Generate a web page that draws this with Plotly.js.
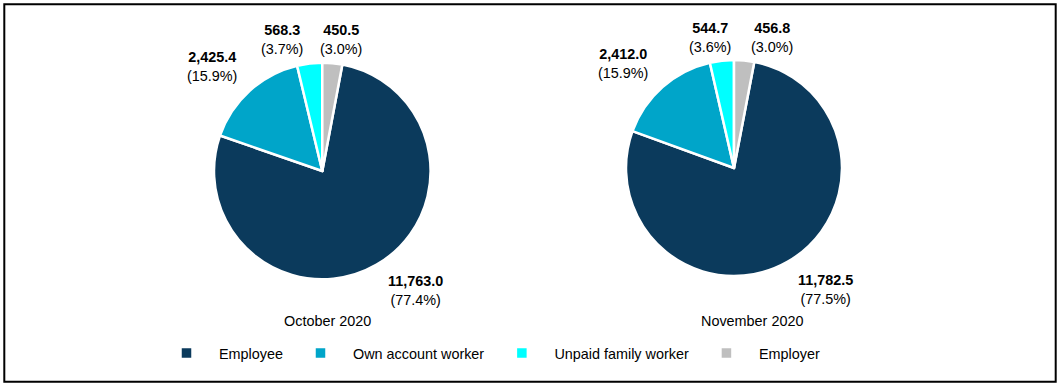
<!DOCTYPE html>
<html>
<head>
<meta charset="utf-8">
<script src="https://cdn.plot.ly/plotly-3.0.1.min.js"></script>
<style>
  html, body { margin: 0; padding: 0; background: #fff; }
  #chart { width: 1062px; height: 388px; }
</style>
</head>
<body>
<div id="chart"></div>
<script>
// ---- data ----
const categories = ["Employee", "Own account worker", "Unpaid family worker", "Employer"];
const periods = ["October 2020", "November 2020"];
const valuesOct = [11763.0, 2425.4, 568.3, 450.5];
const valuesNov = [11782.5, 2412.0, 544.7, 456.8];

// ---- styles / layout ----
const colors = ["#0b3a5c", "#00a5c9", "#00ffff", "#bfbfbf"];
const W = 1062, H = 388;
const FONT = "Liberation Sans, Arial, Helvetica, sans-serif";
const FS = 14.4;
// pie centre (px) and radius
const pieGeo = [
  { cx: 322.3, cy: 171, r: 108.3 },
  { cx: 734, cy: 168, r: 108 }
];
// label anchor positions (px) per pie, in category order
const labelPos = [
  [[415.4, 290.5], [212.2, 66.8], [281.7, 40.0], [341.0, 40.0]],
  [[825.2, 289.2], [623.3, 63.3], [710.0, 37.0], [771.5, 37.0]]
];
const titlePos = [[327.5, 321], [752, 320.5]];

const px = x => x / W;
const py = y => 1 - y / H;

function fmtVal(v) {
  return v.toLocaleString("en-US", { minimumFractionDigits: 1, maximumFractionDigits: 1 });
}

const allValues = [valuesOct, valuesNov];
const traces = [];
const annotations = [];

allValues.forEach((vals, i) => {
  const total = vals.reduce((a, b) => a + b, 0);
  const g = pieGeo[i];
  traces.push({
    type: "pie",
    labels: categories,
    values: vals,
    name: periods[i],
    sort: false,
    direction: "clockwise",
    rotation: 360 * vals[3] / total,
    textinfo: "none",
    marker: { colors: colors, line: { color: "#ffffff", width: 2.5 } },
    domain: {
      x: [px(g.cx - g.r), px(g.cx + g.r)],
      y: [py(g.cy + g.r), py(g.cy - g.r)]
    },
    showlegend: i === 0,
    hovertemplate: "%{label}<br>%{value:,.1f} (%{percent:.1%})<extra>" + periods[i] + "</extra>"
  });
  vals.forEach((v, k) => {
    const pct = (v / total * 100).toFixed(1) + "%";
    annotations.push({
      xref: "paper", yref: "paper",
      x: px(labelPos[i][k][0]), y: py(labelPos[i][k][1]),
      xanchor: "center", yanchor: "middle",
      showarrow: false,
      text: "<b>" + fmtVal(v) + "</b><br>(" + pct + ")",
      font: { family: FONT, size: FS, color: "#000" },
      align: "center"
    });
  });
  annotations.push({
    xref: "paper", yref: "paper",
    x: px(titlePos[i][0]), y: py(titlePos[i][1]),
    xanchor: "center", yanchor: "middle",
    showarrow: false,
    text: periods[i],
    font: { family: FONT, size: FS, color: "#000" }
  });
});

const layout = {
  width: W, height: H,
  margin: { l: 0, r: 0, t: 0, b: 0 },
  paper_bgcolor: "#ffffff",
  font: { family: FONT, size: FS, color: "#000" },
  showlegend: true,
  legend: {
    orientation: "h",
    x: px(154), xanchor: "left",
    y: py(353.2), yanchor: "middle",
    itemwidth: 55,
    traceorder: "normal",
    font: { family: FONT, size: FS, color: "#000" },
    bgcolor: "rgba(0,0,0,0)"
  },
  annotations: annotations,
  shapes: [{
    type: "rect", xref: "paper", yref: "paper",
    x0: px(4.3), x1: px(1055.7), y0: py(381.7), y1: py(4.3),
    line: { color: "#000000", width: 2 },
    fillcolor: "rgba(0,0,0,0)"
  }]
};

Plotly.newPlot("chart", traces, layout, { displayModeBar: false, staticPlot: false });
</script>
</body>
</html>
